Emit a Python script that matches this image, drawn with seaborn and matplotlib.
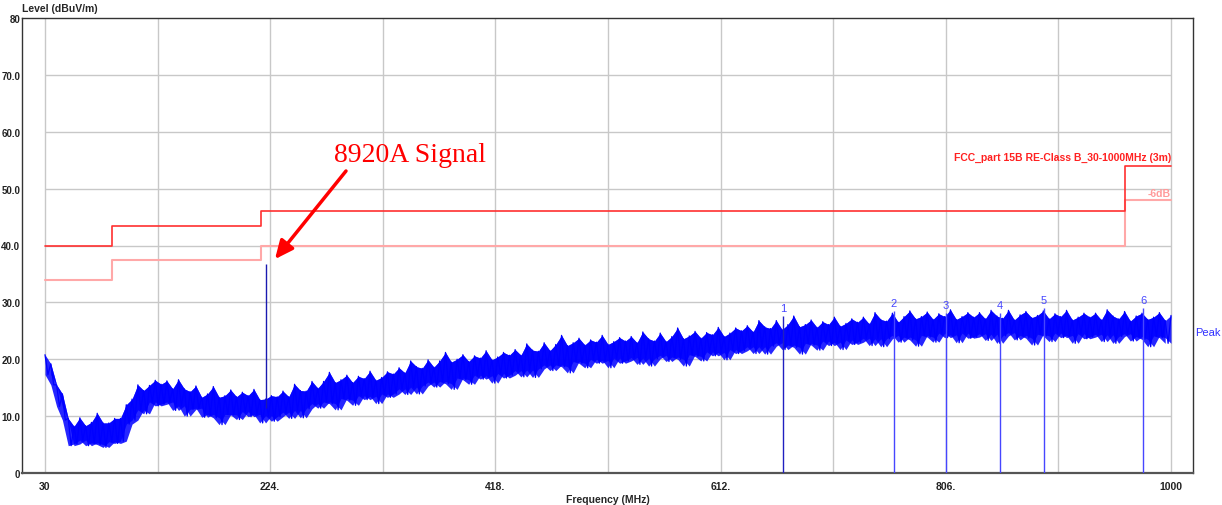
import numpy as np
import pandas as pd
import matplotlib
matplotlib.use("Agg")
import matplotlib.pyplot as plt
import matplotlib.transforms as mtransforms
import seaborn as sns

# ---------------- data ----------------
freq_start, freq_stop, freq_step = 30, 1000, 5
peak_hi = [20.8, 19.2, 15.5, 13.9, 9.6, 8.2, 9.7, 8.3, 8.9, 10.5,
           8.8, 8.8, 9.6, 9.6, 12.0, 13.0, 15.5, 14.5, 15.4, 16.3,
           15.6, 16.2, 14.8, 16.4, 14.8, 14.3, 15.3, 13.3, 13.9, 15.2,
           13.3, 13.6, 14.6, 13.4, 14.2, 13.6, 14.7, 12.9, 13.0, 13.6,
           13.4, 14.4, 13.4, 15.6, 14.5, 14.4, 16.1, 14.9, 16.1, 17.7,
           15.9, 16.4, 17.2, 15.9, 17.0, 16.6, 17.9, 16.3, 16.8, 17.8,
           17.4, 18.5, 17.6, 19.7, 18.7, 18.4, 19.9, 18.6, 19.7, 21.2,
           19.5, 20.0, 20.8, 19.6, 20.6, 20.2, 21.5, 19.9, 20.4, 21.2,
           20.7, 21.7, 20.7, 22.7, 21.6, 21.4, 22.9, 21.5, 22.6, 24.2,
           22.4, 22.9, 23.7, 22.5, 23.4, 23.0, 24.2, 22.6, 23.1, 23.8,
           23.2, 24.0, 22.9, 24.8, 23.6, 23.2, 24.6, 23.1, 24.0, 25.5,
           23.6, 24.1, 24.9, 23.7, 24.7, 24.3, 25.6, 24.0, 24.6, 25.5,
           25.0, 25.9, 24.8, 26.8, 25.7, 25.4, 26.8, 25.2, 26.1, 27.6,
           25.7, 26.1, 26.9, 25.6, 26.6, 26.1, 27.4, 25.8, 26.3, 27.1,
           26.5, 27.4, 26.2, 28.2, 27.0, 26.7, 28.1, 26.5, 27.5, 28.5,
           27.1, 27.5, 28.3, 27.0, 28.0, 27.5, 28.7, 27.0, 27.5, 28.2,
           27.4, 28.2, 27.1, 28.6, 27.6, 27.2, 28.6, 26.9, 27.8, 28.4,
           27.3, 27.7, 28.5, 27.1, 28.0, 27.5, 28.6, 26.9, 27.4, 28.1,
           27.4, 28.1, 26.9, 28.7, 27.6, 27.1, 28.4, 26.7, 27.6, 28.1,
           27.0, 27.4, 28.2, 26.8, 27.7]
peak_lo = [17.3, 15.5, 11.7, 9.3, 4.8, 5.1, 5.8, 4.8, 5.3, 5.0,
           4.5, 5.5, 5.2, 5.6, 8.6, 9.3, 11.1, 10.4, 12.5, 11.8,
           12.1, 12.5, 11.0, 11.8, 10.0, 11.2, 11.4, 9.8, 10.3, 9.7,
           8.5, 10.3, 10.2, 9.4, 10.8, 9.9, 10.3, 8.8, 10.1, 9.1,
           9.9, 10.7, 9.6, 11.0, 9.7, 11.3, 12.2, 11.4, 12.5, 12.2,
           11.1, 13.1, 12.8, 11.9, 13.6, 12.9, 13.5, 12.2, 13.9, 13.3,
           13.9, 14.8, 13.8, 15.1, 13.9, 15.3, 16.0, 15.1, 16.1, 15.7,
           14.7, 16.7, 16.4, 15.6, 17.2, 16.5, 17.1, 15.8, 17.5, 16.7,
           17.2, 18.0, 16.9, 18.1, 16.8, 18.3, 19.0, 18.0, 19.0, 18.7,
           17.6, 19.6, 19.3, 18.5, 20.0, 19.3, 19.8, 18.5, 20.2, 19.3,
           19.7, 20.3, 19.1, 20.2, 18.8, 20.1, 20.7, 19.6, 20.4, 20.0,
           18.8, 20.8, 20.5, 19.7, 21.3, 20.6, 21.2, 19.9, 21.7, 21.0,
           21.5, 22.2, 21.0, 22.2, 20.9, 22.3, 22.9, 21.7, 22.5, 22.1,
           20.9, 22.8, 22.5, 21.6, 23.2, 22.4, 23.0, 21.7, 23.4, 22.6,
           23.0, 23.7, 22.4, 23.6, 22.2, 23.6, 24.2, 23.0, 23.9, 23.4,
           22.3, 24.2, 23.9, 23.0, 24.6, 23.8, 24.3, 22.9, 24.6, 23.7,
           23.9, 24.5, 23.3, 24.4, 22.8, 24.1, 24.7, 23.4, 24.2, 23.7,
           22.5, 24.4, 24.1, 23.1, 24.6, 23.8, 24.2, 22.8, 24.5, 23.6,
           23.9, 24.4, 23.1, 24.3, 22.8, 24.0, 24.5, 23.2, 24.0, 23.5,
           22.2, 24.1, 23.8, 22.8]

spike_freq, spike_base, spike_level = 220.0, 11.4, 36.7

limit_freq = [30, 88, 216, 960, 1000]
limit_level = [40.0, 43.5, 46.0, 54.0, 54.0]
limit6_level = [34.0, 37.5, 40.0, 48.0, 48.0]

marker_ids = ["1", "2", "3", "4", "5", "6"]
marker_freq = [665.8, 761.4, 806.2, 852.7, 890.6, 975.9]
marker_level = [27.6, 28.4, 28.1, 28.1, 29.0, 29.0]

xtick_vals = [30, 224, 418, 612, 806, 1000]
xtick_labels = ["30", "224.", "418.", "612.", "806.", "1000"]
xgrid_vals = [30, 127, 224, 321, 418, 515, 612, 709, 806, 903, 1000]
ytick_vals = [0, 10, 20, 30, 40, 50, 60, 70, 80]
ytick_labels = ["0", "10.0", "20.0", "30.0", "40.0", "50.0", "60.0", "70.0", "80"]

# ---------------- figure ----------------
sns.set_style("white")
plt.rcParams["font.family"] = ["Liberation Sans", "DejaVu Sans"]

fig = plt.figure(figsize=(12.22, 5.06), dpi=100)
ax = fig.add_axes([22 / 1222, 1 - 474 / 506, (1193 - 22) / 1222, (474 - 19) / 506])

xmin = 30 - 23 / (1126 / 970)
xmax = 1000 + 22 / (1126 / 970)
ax.set_xlim(xmin, xmax)
ax.set_ylim(0, 80)

grid_col = "#c8c8c8"
ax.vlines(xgrid_vals, 0, 80, colors=grid_col, lw=1.0, zorder=0)
ax.hlines(ytick_vals[1:-1], 30, 1000, colors=grid_col, lw=1.0, zorder=0)

# limit lines
lim_df = pd.DataFrame({"f": limit_freq, "lim": limit_level, "lim6": limit6_level})
sns.lineplot(data=lim_df, x="f", y="lim", drawstyle="steps-post", color="#ff3030",
             lw=1.2, ax=ax, zorder=3)
sns.lineplot(data=lim_df, x="f", y="lim6", drawstyle="steps-post", color="#ffa8a8",
             lw=1.5, ax=ax, zorder=2)

# peak trace (hi/lo interleaved)
freq = np.arange(freq_start, freq_stop + 1, freq_step, dtype=float)
hi = np.array(peak_hi)
lo = np.array(peak_lo)
xs = np.empty(len(hi) + len(lo))
ys = np.empty(len(hi) + len(lo))
xs[0::2] = freq
xs[1::2] = freq[:-1] + freq_step / 2
ys[0::2] = hi
ys[1::2] = lo
ax.fill_between(freq[:-1], hi[:-1], lo, color="#0000ff", lw=0, alpha=0.85, zorder=4)
ax.fill_between(freq[1:], hi[1:], lo, color="#0000ff", lw=0, alpha=0.85, zorder=4)
trace_df = pd.DataFrame({"f": xs, "level": ys})
sns.lineplot(data=trace_df, x="f", y="level", sort=False, estimator=None,
             color="#0000ff", lw=0.9, ax=ax, zorder=4)
ax.vlines(spike_freq, spike_base, spike_level, colors="#1a1ab0", lw=1.0, zorder=5)

# markers
for i, (mid, mf, ml) in enumerate(zip(marker_ids, marker_freq, marker_level)):
    ax.vlines(mf, 0, ml, colors="#2020c0" if i == 0 else "#4646ff", lw=1.0, zorder=5)
    ax.text(mf, ml + 0.6, mid, color="#4646ff", fontsize=8, ha="center", va="bottom")

# labels
ax.text(1000, 55.6, "FCC_part 15B RE-Class B_30-1000MHz (3m)", color="#ff2020",
        fontsize=7.5, fontweight="bold", ha="right", va="center")
ax.text(1000, 49.2, "-6dB", color="#ff9a9a", fontsize=7.5, fontweight="bold",
        ha="right", va="center")
trans = mtransforms.blended_transform_factory(ax.transAxes, ax.transData)
ax.text(1.002, 24.8, "Peak", color="#3030ff", fontsize=8, ha="left", va="center",
        transform=trans)

# annotation
ax.annotate("", xy=(228.1, 37.6), xytext=(289.3, 53.1),
            arrowprops=dict(arrowstyle="-|>,head_length=1.1,head_width=0.5",
                            color="#ff0000", lw=2.5, shrinkA=0, shrinkB=0), zorder=6)
ax.text(344.4, 56.0, "8920A Signal", color="#ff0000", fontsize=20, ha="center",
        va="center", family=["Liberation Serif", "DejaVu Serif"])

# axes styling
ax.set_xticks(xtick_vals)
ax.set_xticklabels(xtick_labels)
ax.set_yticks(ytick_vals)
ax.set_yticklabels(ytick_labels)
ax.tick_params(axis="both", length=0, colors="#222222")
ax.tick_params(axis="x", pad=6, labelsize=7.5)
ax.tick_params(axis="y", pad=1.2, labelsize=7)
for lab in ax.get_xticklabels() + ax.get_yticklabels():
    lab.set_fontweight("bold")
ax.set_xlabel("Frequency (MHz)", fontsize=7.5, fontweight="bold", labelpad=2)
ax.set_ylabel("")
fig.text(22 / 1222, 1 - 9 / 506, "Level (dBuV/m)", fontsize=7.5, fontweight="bold",
         ha="left", va="center")
for side in ["left", "right", "top"]:
    ax.spines[side].set_color("#333333")
    ax.spines[side].set_linewidth(1.0)
ax.spines["bottom"].set_color("#555555")
ax.spines["bottom"].set_linewidth(1.6)
leg = ax.get_legend()
if leg:
    leg.remove()

fig.savefig("out.png", dpi=100, facecolor="white")
